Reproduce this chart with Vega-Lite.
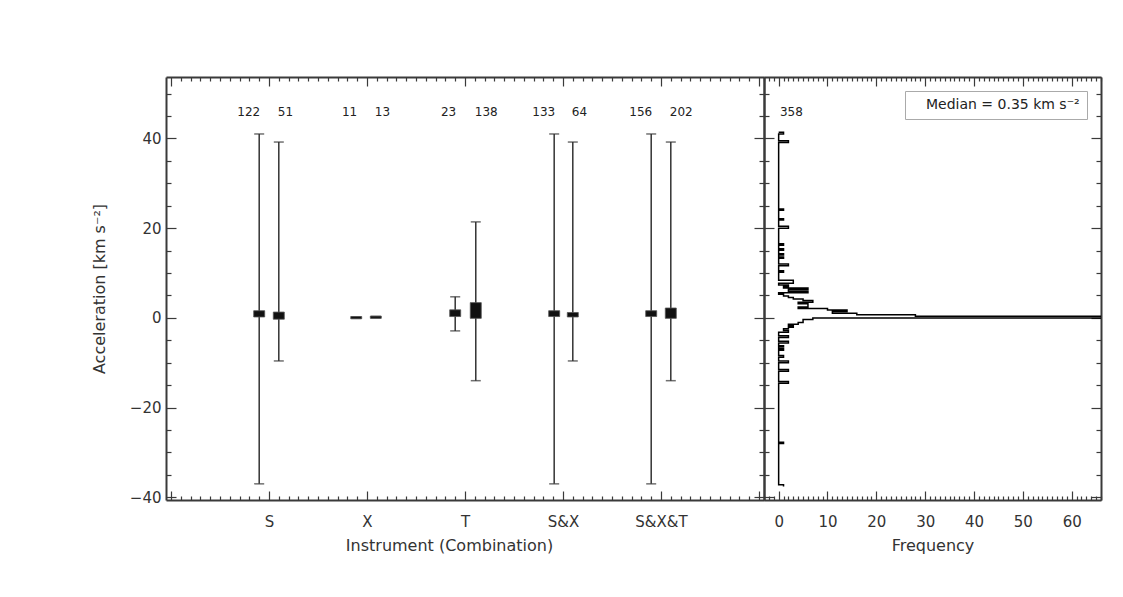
{
  "$schema": "https://vega.github.io/schema/vega-lite/v6.json",
  "background": "white",
  "padding": {"left": 91, "top": 76, "right": 15, "bottom": 20},
  "spacing": 0,
  "bounds": "flush",
  "resolve": {"scale": {"color": "independent"}, "legend": {"color": "independent"}},
  "config": {
    "view": {"stroke": null},
    "axis": {
      "domainColor": "#3a3a3a", "domainWidth": 2,
      "tickColor": "#3a3a3a", "tickWidth": 1.2,
      "labelFont": "DejaVu Sans", "labelFontSize": 15, "labelColor": "#333333",
      "titleFont": "DejaVu Sans", "titleFontSize": 16, "titleFontWeight": "normal", "titleColor": "#333333",
      "grid": false
    },
    "text": {"font": "DejaVu Sans"}
  },
  "hconcat": [
    {
      "width": 598,
      "height": 423,
      "data": {"values": [
        {"cat": "S", "grp": "a", "pos": 0.9, "n": 122, "lo": -37, "hi": 41, "q1": 0.2, "q3": 1.6},
        {"cat": "S", "grp": "b", "pos": 1.1, "n": 51, "lo": -9.6, "hi": 39.2, "q1": -0.3, "q3": 1.3},
        {"cat": "X", "grp": "a", "pos": 1.89, "n": 11, "lo": -0.1, "hi": 0.2, "q1": -0.2, "q3": 0.3},
        {"cat": "X", "grp": "b", "pos": 2.09, "n": 13, "lo": 0.0, "hi": 0.3, "q1": -0.1, "q3": 0.4},
        {"cat": "T", "grp": "a", "pos": 2.9, "n": 23, "lo": -2.9, "hi": 4.7, "q1": 0.3, "q3": 1.8},
        {"cat": "T", "grp": "b", "pos": 3.11, "n": 138, "lo": -14, "hi": 21.4, "q1": -0.1, "q3": 3.4},
        {"cat": "S&X", "grp": "a", "pos": 3.91, "n": 133, "lo": -37, "hi": 41, "q1": 0.3, "q3": 1.6},
        {"cat": "S&X", "grp": "b", "pos": 4.1, "n": 64, "lo": -9.6, "hi": 39.2, "q1": 0.2, "q3": 1.2},
        {"cat": "S&X&T", "grp": "a", "pos": 4.9, "n": 156, "lo": -37, "hi": 41, "q1": 0.3, "q3": 1.6},
        {"cat": "S&X&T", "grp": "b", "pos": 5.1, "n": 202, "lo": -14, "hi": 39.2, "q1": -0.1, "q3": 2.2}
      ]},
      "layer": [
        {
          "mark": {"type": "rule", "color": "#333333", "strokeWidth": 1.5},
          "encoding": {
            "x": {"field": "pos", "type": "quantitative",
              "scale": {"domain": [0, 6], "nice": false, "zero": false},
              "axis": {
                "orient": "bottom",
                "values": [0,0.1,0.2,0.3,0.4,0.5,0.6,0.7,0.8,0.9,1,1.1,1.2,1.3,1.4,1.5,1.6,1.7,1.8,1.9,2,2.1,2.2,2.3,2.4,2.5,2.6,2.7,2.8,2.9,3,3.1,3.2,3.3,3.4,3.5,3.6,3.7,3.8,3.9,4,4.1,4.2,4.3,4.4,4.5,4.6,4.7,4.8,4.9,5,5.1,5.2,5.3,5.4,5.5,5.6,5.7,5.8,5.9,6],
                "labelExpr": "abs(datum.value - round(datum.value)) < 0.001 ? ['', 'S', 'X', 'T', 'S&X', 'S&X&T', ''][round(datum.value)] : ''",
                "tickSize": {"condition": {"test": "abs(datum.value - round(datum.value)) < 0.001", "value": -9}, "value": -4},
                "labelPadding": 23,
                "labelFlush": false,
                "labelOverlap": false,
                "title": "Instrument (Combination)",
                "titlePadding": 3,
                "titleX": 283
              }
            },
            "y": {"field": "lo", "type": "quantitative",
              "scale": {"domain": [-40.6, 53.7], "nice": false, "zero": false},
              "axis": {
                "orient": "left",
                "values": [-40,-35,-30,-25,-20,-15,-10,-5,0,5,10,15,20,25,30,35,40,45,50],
                "labelExpr": "datum.value % 20 === 0 ? datum.label : ''",
                "tickSize": {"condition": {"test": "datum.value % 20 === 0", "value": -10}, "value": -5},
                "labelPadding": 15,
                "labelFlush": false,
                "labelOverlap": false,
                "title": "Acceleration [km s⁻²]",
                "titlePadding": 22
              }
            },
            "y2": {"field": "hi"}
          }
        },
        {
          "mark": {"type": "tick", "orient": "horizontal", "color": "#333333", "size": 10, "thickness": 1.5},
          "encoding": {
            "x": {"field": "pos", "type": "quantitative", "axis": null},
            "y": {"field": "lo", "type": "quantitative", "axis": null}
          }
        },
        {
          "mark": {"type": "tick", "orient": "horizontal", "color": "#333333", "size": 10, "thickness": 1.5},
          "encoding": {
            "x": {"field": "pos", "type": "quantitative", "axis": null},
            "y": {"field": "hi", "type": "quantitative", "axis": null}
          }
        },
        {
          "mark": {"type": "bar", "color": "#111111", "size": 11, "stroke": "#555555", "strokeWidth": 0.8},
          "encoding": {
            "x": {"field": "pos", "type": "quantitative",
              "axis": {
                "orient": "top",
                "values": [0,0.1,0.2,0.3,0.4,0.5,0.6,0.7,0.8,0.9,1,1.1,1.2,1.3,1.4,1.5,1.6,1.7,1.8,1.9,2,2.1,2.2,2.3,2.4,2.5,2.6,2.7,2.8,2.9,3,3.1,3.2,3.3,3.4,3.5,3.6,3.7,3.8,3.9,4,4.1,4.2,4.3,4.4,4.5,4.6,4.7,4.8,4.9,5,5.1,5.2,5.3,5.4,5.5,5.6,5.7,5.8,5.9,6],
                "labels": false,
                "tickSize": {"condition": {"test": "abs(datum.value - round(datum.value)) < 0.001", "value": -9}, "value": -4},
                "title": null
              }
            },
            "y": {"field": "q1", "type": "quantitative",
              "axis": {
                "orient": "right",
                "values": [-40,-35,-30,-25,-20,-15,-10,-5,0,5,10,15,20,25,30,35,40,45,50],
                "labels": false,
                "tickSize": {"condition": {"test": "datum.value % 20 === 0", "value": -10}, "value": -5},
                "title": null
              }
            },
            "y2": {"field": "q3"}
          }
        },
        {
          "transform": [{"filter": "datum.grp === 'a'"}],
          "mark": {"type": "text", "align": "right", "baseline": "middle", "fontSize": 12, "color": "#222222", "dx": 1},
          "encoding": {
            "x": {"field": "pos", "type": "quantitative", "axis": null},
            "y": {"datum": 46, "type": "quantitative", "axis": null},
            "text": {"field": "n", "type": "quantitative"}
          }
        },
        {
          "transform": [{"filter": "datum.grp === 'b'"}],
          "mark": {"type": "text", "align": "left", "baseline": "middle", "fontSize": 12, "color": "#222222", "dx": -1},
          "encoding": {
            "x": {"field": "pos", "type": "quantitative", "axis": null},
            "y": {"datum": 46, "type": "quantitative", "axis": null},
            "text": {"field": "n", "type": "quantitative"}
          }
        }
      ],
      "resolve": {"axis": {"x": "independent", "y": "independent"}}
    },
    {
      "width": 337,
      "height": 423,
      "layer": [
        {
          "data": {"values": [
            {"acc": -37.6, "count": 1}, {"acc": -37.2, "count": 0}, {"acc": -28.0, "count": 1}, {"acc": -27.7, "count": 0},
            {"acc": -14.6, "count": 2}, {"acc": -14.2, "count": 0}, {"acc": -11.9, "count": 2}, {"acc": -11.5, "count": 0},
            {"acc": -10.0, "count": 2}, {"acc": -9.6, "count": 0}, {"acc": -8.8, "count": 1}, {"acc": -8.4, "count": 0},
            {"acc": -7.2, "count": 1}, {"acc": -6.9, "count": 0}, {"acc": -6.5, "count": 1}, {"acc": -6.2, "count": 0},
            {"acc": -5.6, "count": 2}, {"acc": -5.2, "count": 0}, {"acc": -4.4, "count": 2}, {"acc": -4.0, "count": 0},
            {"acc": -3.2, "count": 2}, {"acc": -2.8, "count": 1}, {"acc": -2.45, "count": 2}, {"acc": -2.1, "count": 3},
            {"acc": -1.75, "count": 2}, {"acc": -1.4, "count": 4}, {"acc": -1.05, "count": 5}, {"acc": -0.7, "count": 5},
            {"acc": -0.35, "count": 7}, {"acc": 0.0, "count": 158}, {"acc": 0.35, "count": 28}, {"acc": 0.7, "count": 16},
            {"acc": 1.05, "count": 11}, {"acc": 1.4, "count": 14}, {"acc": 1.75, "count": 10}, {"acc": 2.1, "count": 4},
            {"acc": 2.45, "count": 6}, {"acc": 2.8, "count": 6}, {"acc": 3.15, "count": 4}, {"acc": 3.5, "count": 7},
            {"acc": 3.85, "count": 5}, {"acc": 4.2, "count": 3}, {"acc": 4.55, "count": 2}, {"acc": 4.9, "count": 1},
            {"acc": 5.25, "count": 0}, {"acc": 5.6, "count": 6}, {"acc": 5.95, "count": 2}, {"acc": 6.3, "count": 6},
            {"acc": 6.65, "count": 1}, {"acc": 7.0, "count": 2}, {"acc": 7.35, "count": 0}, {"acc": 7.7, "count": 3},
            {"acc": 8.05, "count": 3}, {"acc": 8.4, "count": 0}, {"acc": 10.2, "count": 1}, {"acc": 10.5, "count": 0},
            {"acc": 11.6, "count": 2}, {"acc": 12.0, "count": 0}, {"acc": 13.3, "count": 1}, {"acc": 13.6, "count": 0},
            {"acc": 14.0, "count": 1}, {"acc": 14.3, "count": 0}, {"acc": 15.1, "count": 1}, {"acc": 15.4, "count": 0},
            {"acc": 16.2, "count": 1}, {"acc": 16.5, "count": 0}, {"acc": 20.0, "count": 2}, {"acc": 20.4, "count": 0},
            {"acc": 21.8, "count": 1}, {"acc": 22.1, "count": 0}, {"acc": 24.0, "count": 1}, {"acc": 24.3, "count": 0},
            {"acc": 39.1, "count": 2}, {"acc": 39.5, "count": 0}, {"acc": 41.0, "count": 1}, {"acc": 41.4, "count": 0}
          ]},
          "mark": {"type": "line", "interpolate": "step-before", "strokeWidth": 1.5, "clip": true},
          "encoding": {
            "x": {"field": "count", "type": "quantitative",
              "scale": {"domain": [-3, 66], "nice": false, "zero": false},
              "axis": {
                "orient": "bottom",
                "values": [-3,-2,-1,0,1,2,3,4,5,6,7,8,9,10,11,12,13,14,15,16,17,18,19,20,21,22,23,24,25,26,27,28,29,30,31,32,33,34,35,36,37,38,39,40,41,42,43,44,45,46,47,48,49,50,51,52,53,54,55,56,57,58,59,60,61,62,63,64,65,66],
                "labelExpr": "datum.value % 10 === 0 ? datum.label : ''",
                "tickSize": {"condition": {"test": "datum.value % 10 === 0", "value": -9}, "value": -4},
                "labelPadding": 23,
                "labelFlush": false,
                "labelOverlap": false,
                "title": "Frequency",
                "titlePadding": 3
              }
            },
            "y": {"field": "acc", "type": "quantitative",
              "scale": {"domain": [-40.6, 53.7], "nice": false, "zero": false},
              "axis": {
                "orient": "left",
                "values": [-40,-35,-30,-25,-20,-15,-10,-5,0,5,10,15,20,25,30,35,40,45,50],
                "labels": false,
                "tickSize": {"condition": {"test": "datum.value % 20 === 0", "value": -10}, "value": -5},
                "title": null
              }
            },
            "order": {"field": "acc", "type": "quantitative"},
            "color": {
              "datum": "Median = 0.35 km s⁻²",
              "scale": {"range": ["#000000"]},
              "legend": {
                "orient": "top-right",
                "offset": 14,
                "title": null,
                "symbolSize": 0,
                "symbolStrokeWidth": 0,
                "symbolOpacity": 0,
                "labelOffset": 0,
                "labelFont": "DejaVu Sans",
                "labelFontSize": 14,
                "labelColor": "#222222",
                "padding": 7,
                "strokeColor": "#aaaaaa",
                "fillColor": "#ffffff"
              }
            }
          }
        },
        {
          "data": {"values": [{"count": 2.6, "total": 358}]},
          "mark": {"type": "text", "align": "center", "baseline": "middle", "fontSize": 12, "color": "#222222"},
          "encoding": {
            "x": {"field": "count", "type": "quantitative",
              "axis": {
                "orient": "top",
                "values": [-3,-2,-1,0,1,2,3,4,5,6,7,8,9,10,11,12,13,14,15,16,17,18,19,20,21,22,23,24,25,26,27,28,29,30,31,32,33,34,35,36,37,38,39,40,41,42,43,44,45,46,47,48,49,50,51,52,53,54,55,56,57,58,59,60,61,62,63,64,65,66],
                "labels": false,
                "tickSize": {"condition": {"test": "datum.value % 10 === 0", "value": -9}, "value": -4},
                "title": null
              }
            },
            "y": {"datum": 46, "type": "quantitative",
              "axis": {
                "orient": "right",
                "values": [-40,-35,-30,-25,-20,-15,-10,-5,0,5,10,15,20,25,30,35,40,45,50],
                "labels": false,
                "tickSize": {"condition": {"test": "datum.value % 20 === 0", "value": -10}, "value": -5},
                "title": null
              }
            },
            "text": {"field": "total", "type": "quantitative"}
          }
        }
      ],
      "resolve": {"axis": {"x": "independent", "y": "independent"}}
    }
  ]
}
